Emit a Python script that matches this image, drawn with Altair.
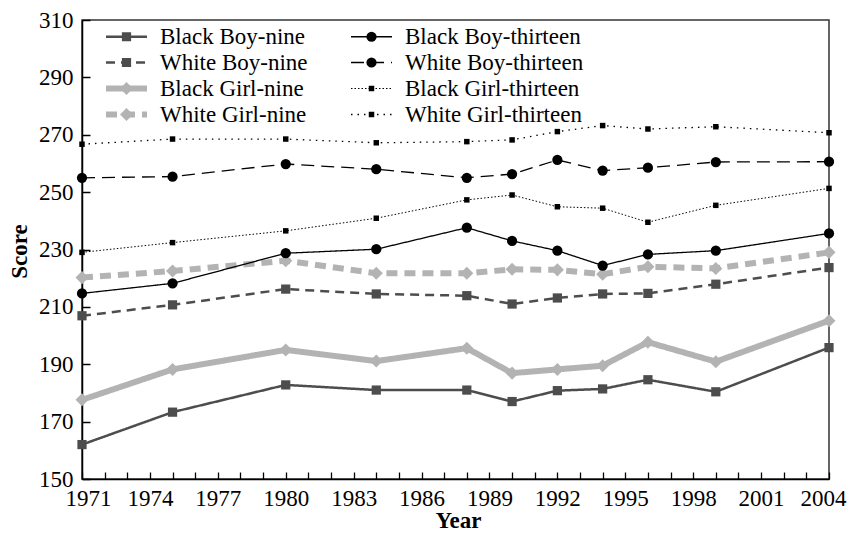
import altair as alt
import pandas as pd

# ---- data ----
years = [1971, 1975, 1980, 1984, 1988, 1990, 1992, 1994, 1996, 1999, 2004]

black_boy_nine = [162.0, 173.3, 182.8, 181.0, 181.0, 177.0, 180.8, 181.4, 184.6, 180.4, 195.8]
white_boy_nine = [206.9, 210.7, 216.2, 214.5, 213.9, 211.0, 213.1, 214.5, 214.7, 217.9, 223.7]
black_girl_nine = [177.6, 188.2, 195.0, 191.1, 195.6, 186.9, 188.2, 189.5, 197.7, 190.9, 205.2]
white_girl_nine = [220.2, 222.5, 226.1, 221.7, 221.7, 223.1, 222.9, 221.4, 224.0, 223.4, 229.0]
black_boy_thirteen = [214.7, 218.2, 228.7, 230.1, 237.6, 233.0, 229.6, 224.4, 228.3, 229.6, 235.6]
white_boy_thirteen = [255.0, 255.4, 259.8, 258.0, 255.0, 256.3, 261.2, 257.5, 258.5, 260.5, 260.6]
black_girl_thirteen = [229.0, 232.4, 236.5, 240.9, 247.3, 249.0, 244.9, 244.4, 239.5, 245.4, 251.3]
white_girl_thirteen = [266.7, 268.5, 268.5, 267.2, 267.6, 268.2, 271.1, 273.2, 272.0, 272.8, 270.7]

# legend fills column by column: first column = the "nine" series
series_names = [
    "Black Boy-nine", "White Boy-nine", "Black Girl-nine", "White Girl-nine",
    "Black Boy-thirteen", "White Boy-thirteen", "Black Girl-thirteen", "White Girl-thirteen",
]
series_values = [
    black_boy_nine, white_boy_nine, black_girl_nine, white_girl_nine,
    black_boy_thirteen, white_boy_thirteen, black_girl_thirteen, white_girl_thirteen,
]

x_label_values = list(range(1971, 2005, 3))
x_tick_values = list(range(1971, 2005, 1))
y_values = list(range(150, 311, 20))

# ---- styles (same order as series_names) ----
line_colors = ["#4d4d4d", "#4d4d4d", "#b3b3b3", "#b3b3b3", "#000000", "#000000", "#000000", "#000000"]
line_dashes = [[1, 0], [9, 6], [1, 0], [11, 7], [1, 0], [13, 7], [1.5, 2], [1.5, 5]]
line_widths = [2.5, 2.5, 6, 6, 1.3, 1.3, 1, 1.3]
marker_shapes = ["square", "square", "diamond", "diamond", "circle", "circle", "square", "square"]
marker_sizes = [85, 85, 170, 170, 105, 105, 30, 30]

rows = []
for name, vals in zip(series_names, series_values):
    for yr, v in zip(years, vals):
        rows.append({"year": yr, "score": v, "series": name})
df = pd.DataFrame(rows)

FONT = "Liberation Serif"
FS = 23
W, H = 747, 459
CP = 40
LX = 21

x_scale = alt.Scale(domain=[1971, 2004], nice=False, zero=False)
y_scale = alt.Scale(domain=[150, 310], nice=False, zero=False)

legend_common = dict(
    orient="none", columns=2, rowPadding=2, clipHeight=23,
    labelFont=FONT, labelFontSize=FS, labelColor="black", labelLimit=400,
    title=None, padding=0,
)
legend_lines = alt.Legend(
    legendX=LX, legendY=5, symbolType="stroke", symbolSize=1681,
    labelOffset=10, columnPadding=CP, **legend_common,
)
legend_marks = alt.Legend(
    legendX=LX + 12, legendY=5, labelOffset=22, labelOpacity=0,
    symbolStrokeWidth=0, symbolOpacity=1, columnPadding=CP + 12, **legend_common,
)

lines = alt.Chart(df).mark_line(strokeCap="butt").encode(
    x=alt.X("year:Q", scale=x_scale, axis=alt.Axis(
        orient="bottom", values=x_label_values, format="d", ticks=False, tickSize=0,
        grid=False, domainColor="black", domainWidth=1.5,
        labelFont=FONT, labelFontSize=FS, labelColor="black", labelPadding=8,
        labelFlush=True, labelFlushOffset=17, labelOverlap=False,
        title="Year", titleFont=FONT, titleFontSize=FS, titleFontWeight="bold",
        titleColor="black", titleX=376, titleY=48, titleBaseline="alphabetic",
        titleAlign="center")),
    y=alt.Y("score:Q", scale=y_scale, axis=alt.Axis(
        orient="left", values=y_values, ticks=False, tickSize=0, grid=False,
        domainColor="black", domainWidth=1.5,
        labelFont=FONT, labelFontSize=FS, labelColor="black", labelPadding=9,
        labelOverlap=False,
        title="Score", titleFont=FONT, titleFontSize=FS, titleFontWeight="bold",
        titleColor="black", titleAngle=270, titleX=-63, titleY=231,
        titleAlign="center", titleBaseline="middle")),
    color=alt.Color("series:N", scale=alt.Scale(domain=series_names, range=line_colors),
                    legend=legend_lines),
    strokeDash=alt.StrokeDash("series:N", scale=alt.Scale(domain=series_names, range=line_dashes),
                              legend=legend_lines),
    strokeWidth=alt.StrokeWidth("series:N",
                                scale=alt.Scale(type="ordinal", domain=series_names, range=line_widths),
                                legend=legend_lines),
)

points = alt.Chart(df).mark_point(filled=True, opacity=1, strokeWidth=0).encode(
    x=alt.X("year:Q", scale=x_scale, axis=alt.Axis(
        orient="top", offset=-H, values=x_tick_values, labels=False, domain=False,
        grid=False, ticks=True, tickSize=7, tickColor="black", tickWidth=1.3, title=None)),
    y=alt.Y("score:Q", scale=y_scale, axis=alt.Axis(
        orient="right", offset=-W, values=y_values, labels=False, domain=False,
        grid=False, ticks=True, tickSize=8, tickColor="black", tickWidth=1.5, title=None)),
    color=alt.Color("series:N", scale=alt.Scale(domain=series_names, range=line_colors),
                    legend=legend_marks),
    shape=alt.Shape("series:N", scale=alt.Scale(domain=series_names, range=marker_shapes),
                    legend=legend_marks),
    size=alt.Size("series:N",
                  scale=alt.Scale(type="ordinal", domain=series_names, range=marker_sizes),
                  legend=legend_marks),
)

chart = alt.layer(lines, points).resolve_scale(
    color="independent", strokeDash="independent", strokeWidth="independent",
    shape="independent", size="independent",
).resolve_axis(
    x="independent", y="independent",
).properties(
    width=W, height=H,
    autosize=alt.AutoSizeParams(type="none"),
    padding={"left": 74, "top": 12, "right": 18, "bottom": 54},
    background="white",
).configure_view(
    stroke="#333333", strokeWidth=1.5,
)

chart.save("out.html", embed_options={"renderer": "svg", "actions": False})
